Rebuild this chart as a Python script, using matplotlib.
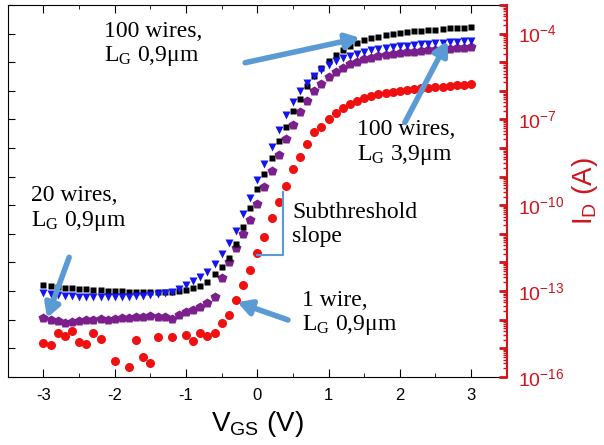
import numpy as np
import matplotlib
matplotlib.use('Agg')
import matplotlib.pyplot as plt
from matplotlib.ticker import LogLocator, FuncFormatter, MultipleLocator, NullFormatter

# gate voltage sweep (V)
vgs = np.round(np.arange(-3.0, 3.01, 0.1), 1)

# log10 of drain current
black_100w_09 = [-12.78, -12.82, -12.85, -12.88, -12.90, -12.92, -12.94, -12.96, -12.97, -12.99,
                 -13.00, -13.01, -13.02, -13.03, -13.03, -13.03, -13.03, -13.03, -13.02, -13.00,
                 -12.95, -12.90, -12.84, -12.70, -12.42, -12.15, -11.85, -11.35, -10.75, -10.10,
                 -9.45, -8.90, -8.35, -7.75, -7.25, -6.72, -6.30, -5.85, -5.50, -5.20,
                 -4.95, -4.75, -4.58, -4.45, -4.33, -4.24, -4.17, -4.11, -4.06, -4.02,
                 -3.98, -3.95, -3.92, -3.90, -3.88, -3.86, -3.84, -3.82, -3.81, -3.79, -3.77]
blue_100w_39 = [-13.07, -13.12, -13.15, -13.17, -13.18, -13.19, -13.20, -13.20, -13.20, -13.20,
                -13.20, -13.20, -13.19, -13.18, -13.16, -13.14, -13.12, -13.08, -13.03, -12.92,
                -12.80, -12.66, -12.52, -12.35, -12.05, -11.72, -11.32, -10.90, -10.32, -9.75,
                -9.12, -8.55, -7.95, -7.38, -6.85, -6.38, -6.00, -5.72, -5.48, -5.28,
                -5.10, -4.97, -4.86, -4.77, -4.70, -4.64, -4.59, -4.55, -4.51, -4.48,
                -4.45, -4.42, -4.40, -4.38, -4.36, -4.34, -4.32, -4.30, -4.28, -4.27, -4.25]
purple_20w_09 = [-13.94, -14.00, -14.05, -14.10, -14.08, -14.05, -14.02, -14.00, -13.98, -14.00,
                 -13.98, -13.95, -13.93, -13.92, -13.90, -13.88, -13.90, -13.92, -13.98, -13.85,
                 -13.72, -13.65, -13.55, -13.42, -13.20, -12.55, -12.00, -11.50, -11.00, -10.50,
                 -9.95, -9.38, -8.80, -8.25, -7.68, -7.18, -6.75, -6.35, -6.02, -5.75,
                 -5.52, -5.35, -5.20, -5.08, -4.98, -4.90, -4.84, -4.79, -4.75, -4.72,
                 -4.69, -4.66, -4.63, -4.61, -4.59, -4.57, -4.55, -4.53, -4.51, -4.50, -4.48]
red_1w_09 = [-14.82, -14.88, -14.47, -14.57, -14.40, -14.78, -14.85, -14.47, -14.68, np.nan,
             -15.44, np.nan, -15.65, -14.71, -15.30, -15.51, -14.60, np.nan, -14.60, np.nan,
             -14.54, -14.75, -14.47, -14.57, -14.47, -14.12, -13.84, -13.30, -12.79, -12.27,
             -11.68, -11.12, -10.46, -9.90, -9.34, -8.72, -8.33, -7.85, -7.45, -7.25,
             -6.98, -6.78, -6.60, -6.47, -6.36, -6.27, -6.19, -6.13, -6.08, -6.04,
             -6.00, -5.97, -5.94, -5.92, -5.90, -5.88, -5.86, -5.84, -5.81, -5.79, -5.77]

# decades that carry a label on the right axis
labelled_decades = [-16, -13, -10, -7, -4]

red_axis = '#d0141c'
arrow_blue = '#5b9bd5'
serif = 'Liberation Serif'
sans = 'Liberation Sans'

plt.rcParams['font.family'] = sans
plt.rcParams['axes.unicode_minus'] = False

fig = plt.figure(figsize=(6.04, 4.45), dpi=100)
ax = fig.add_axes([0.013, 0.153, 0.826, 0.836])

ax.plot(vgs, 10.0 ** np.array(red_1w_09), 'o', color='#f01010', ms=6.5, mec='none', zorder=2)
ax.plot(vgs, 10.0 ** np.array(purple_20w_09), 'p', color='#7a1f8c', ms=7, mec='none', zorder=3)
ax.plot(vgs, 10.0 ** np.array(black_100w_09), 's', color='black', ms=5, mec='none', zorder=4)
ax.plot(vgs, 10.0 ** np.array(blue_100w_39), 'v', color='#1414f0', ms=6, mec='none', zorder=5)

ax.set_yscale('log')
ax.set_xlim(-3.5, 3.5)
ax.set_ylim(1e-16, 1e-3)

# bottom / top / left axis
ax.xaxis.set_major_locator(MultipleLocator(1))
ax.xaxis.set_minor_locator(MultipleLocator(0.5))
ax.tick_params(axis='x', which='both', direction='in', top=True, labelsize=12, pad=8)
ax.tick_params(axis='x', which='major', length=6)
ax.tick_params(axis='x', which='minor', length=3)
ax.yaxis.set_major_locator(LogLocator(base=10, numticks=20))
ax.yaxis.set_minor_formatter(NullFormatter())
ax.tick_params(axis='y', which='major', direction='in', length=5, labelleft=False, right=False)
ax.tick_params(axis='y', which='minor', left=False, right=False)
ax.spines['right'].set_visible(False)
ax.set_xlabel('$\\mathregular{V_{GS}}$ (V)', fontsize=20, labelpad=4)

# red current axis on the right
ax2 = ax.twinx()
ax2.set_yscale('log')
ax2.set_ylim(1e-16, 1e-3)
ax2.spines['right'].set_color(red_axis)
ax2.spines['right'].set_linewidth(1.5)
for s in ['left', 'top', 'bottom']:
    ax2.spines[s].set_visible(False)
ax2.yaxis.set_major_locator(LogLocator(base=10, numticks=20))
ax2.yaxis.set_minor_locator(LogLocator(base=10, subs=np.arange(2, 10), numticks=20))
ax2.yaxis.set_minor_formatter(NullFormatter())


def fmt(v, pos):
    e = int(round(np.log10(v)))
    if e not in labelled_decades:
        return ''
    return '$\\mathregular{10^{%d}}$' % e


ax2.yaxis.set_major_formatter(FuncFormatter(fmt))
ax2.tick_params(axis='y', which='major', direction='in', length=6, width=2, colors=red_axis,
                labelsize=14, pad=8)
ax2.tick_params(axis='y', which='minor', direction='in', length=3, width=1, colors=red_axis)
ax2.set_ylabel('$\\mathregular{I_D}$ (A)', fontsize=20, color=red_axis, labelpad=4)

# annotations
arrow_kw = dict(arrowstyle='-|>,head_length=0.8,head_width=0.45', color=arrow_blue, lw=4,
                shrinkA=0, shrinkB=0)
ax.annotate('', xy=(1.44, 10 ** -4.15), xytext=(-0.17, 10 ** -5.02), arrowprops=arrow_kw, zorder=6)
ax.annotate('', xy=(2.67, 10 ** -4.26), xytext=(2.07, 10 ** -7.11), arrowprops=arrow_kw, zorder=6)
ax.annotate('', xy=(-2.95, 10 ** -13.94), xytext=(-2.64, 10 ** -11.82), arrowprops=arrow_kw, zorder=6)
ax.annotate('', xy=(-0.28, 10 ** -13.39), xytext=(0.43, 10 ** -14.01), arrowprops=arrow_kw, zorder=6)

# subthreshold bracket
ax.plot([0.36, 0.36, 0.0], [10 ** -9.55, 10 ** -11.75, 10 ** -11.75], color=arrow_blue, lw=1.5, zorder=6)

txt = dict(family=serif, fontsize=17, ha='left', va='top', linespacing=1.15)
lg = '$\\mathregular{L_G}$'
ax.text(-2.15, 10 ** -3.55, '100 wires,\n' + lg + ' 0,9μm', **txt)
ax.text(1.40, 10 ** -7.0, '100 wires,\n' + lg + ' 3,9μm', **txt)
ax.text(-3.18, 10 ** -9.3, '20 wires,\n' + lg + ' 0,9μm', **txt)
ax.text(0.63, 10 ** -12.95, '1 wire,\n' + lg + ' 0,9μm', **txt)
ax.text(0.49, 10 ** -9.9, 'Subthreshold\nslope', **txt)

fig.savefig('out.png', dpi=100)
